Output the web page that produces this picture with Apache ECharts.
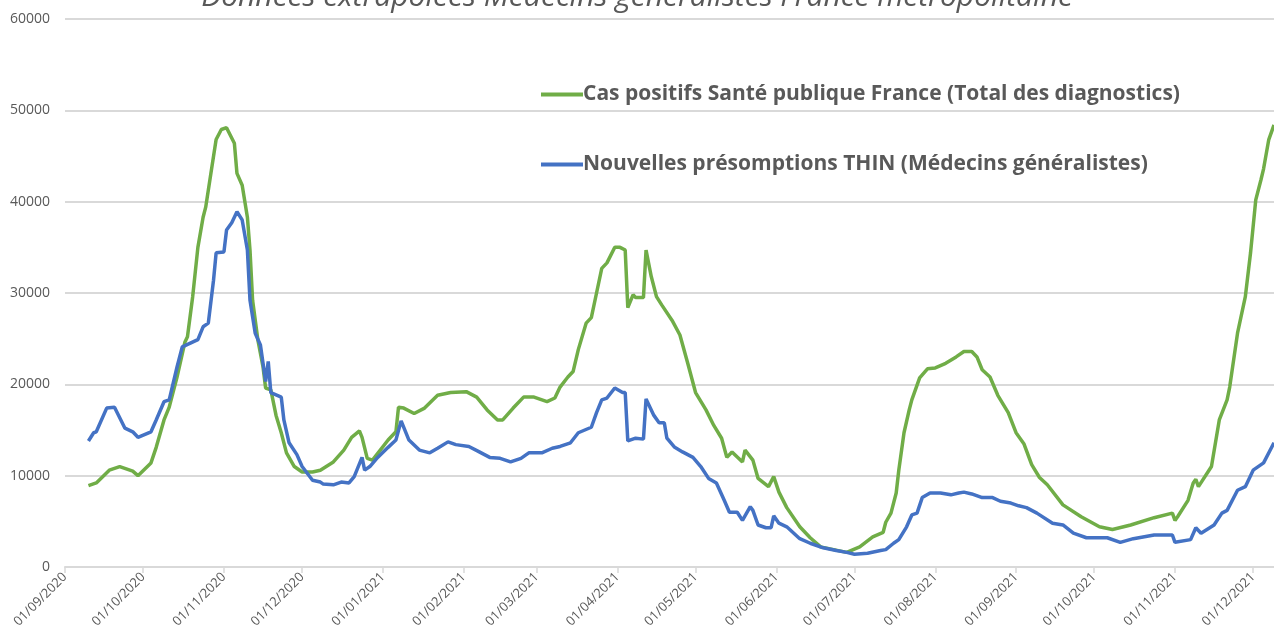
<!doctype html>
<html>
<head>
<meta charset="UTF-8">
<title>Données extrapolées Médecins généralistes</title>
<script src="https://cdn.jsdelivr.net/npm/echarts@6/dist/echarts.min.js"></script>
<style>
  html, body { margin: 0; padding: 0; background: #fff; }
  #main { width: 1274px; height: 644px; }
</style>
</head>
<body>
<div id="main"></div>
<script>
// séries
var greenDates = ['2020-09-10','2020-09-13','2020-09-18','2020-09-22','2020-09-27','2020-09-29','2020-10-04','2020-10-06','2020-10-09','2020-10-11',
  '2020-10-14','2020-10-17','2020-10-18','2020-10-20','2020-10-22','2020-10-24','2020-10-25','2020-10-27','2020-10-29','2020-10-31',
  '2020-11-02','2020-11-05','2020-11-06','2020-11-08','2020-11-10','2020-11-11','2020-11-12','2020-11-14','2020-11-16','2020-11-17',
  '2020-11-19','2020-11-21','2020-11-23','2020-11-25','2020-11-28','2020-12-01','2020-12-05','2020-12-08','2020-12-13','2020-12-17',
  '2020-12-20','2020-12-23','2020-12-24','2020-12-26','2020-12-28','2020-12-31','2021-01-03','2021-01-06','2021-01-07','2021-01-09',
  '2021-01-13','2021-01-17','2021-01-22','2021-01-27','2021-02-02','2021-02-06','2021-02-10','2021-02-14','2021-02-16','2021-02-20',
  '2021-02-24','2021-02-28','2021-03-05','2021-03-08','2021-03-10','2021-03-13','2021-03-15','2021-03-17','2021-03-20','2021-03-22',
  '2021-03-24','2021-03-26','2021-03-28','2021-03-31','2021-04-02','2021-04-04','2021-04-05','2021-04-07','2021-04-08','2021-04-11',
  '2021-04-12','2021-04-14','2021-04-16','2021-04-18','2021-04-22','2021-04-25','2021-04-28','2021-05-01','2021-05-05','2021-05-08',
  '2021-05-11','2021-05-13','2021-05-15','2021-05-19','2021-05-20','2021-05-23','2021-05-25','2021-05-29','2021-05-31','2021-06-02',
  '2021-06-05','2021-06-10','2021-06-14','2021-06-18','2021-06-23','2021-06-28','2021-07-03','2021-07-08','2021-07-12','2021-07-13',
  '2021-07-15','2021-07-17','2021-07-18','2021-07-20','2021-07-22','2021-07-23','2021-07-26','2021-07-29','2021-08-01','2021-08-05',
  '2021-08-09','2021-08-12','2021-08-15','2021-08-17','2021-08-19','2021-08-22','2021-08-25','2021-08-29','2021-09-01','2021-09-04',
  '2021-09-07','2021-09-10','2021-09-13','2021-09-19','2021-09-26','2021-10-03','2021-10-08','2021-10-15','2021-10-24','2021-10-31',
  '2021-11-01','2021-11-02','2021-11-06','2021-11-08','2021-11-09','2021-11-10','2021-11-15','2021-11-18','2021-11-21','2021-11-22',
  '2021-11-25','2021-11-28','2021-11-30','2021-12-02','2021-12-04','2021-12-05','2021-12-07','2021-12-09'];
var greenValues = [8900,9200,10600,11000,10500,10000,11400,13100,16100,17500,
  20800,24600,25200,29600,35000,38300,39400,43100,46800,47900,
  48100,46400,43100,41800,38300,34700,29200,24900,21900,19600,
  19400,16600,14700,12500,11000,10400,10400,10600,11500,12800,
  14200,14900,14200,11900,11700,12800,13900,14800,17500,17400,
  16800,17400,18800,19100,19200,18600,17200,16100,16100,17400,
  18600,18600,18100,18500,19700,20800,21400,23800,26700,27300,
  30000,32700,33300,35000,35000,34700,28400,29800,29500,29500,
  34700,31800,29600,28700,27000,25400,22300,19100,17200,15500,
  14100,12000,12600,11500,12800,11700,9700,8800,9900,8200,
  6500,4400,3200,2200,1900,1600,2200,3300,3800,4900,
  5900,8100,10600,14700,17200,18300,20700,21700,21800,22300,
  23000,23600,23600,23000,21600,20800,18800,16900,14700,13500,
  11200,9800,9000,6800,5500,4400,4100,4600,5400,5900,
  5100,5500,7300,9200,9600,8800,11000,16100,18300,19700,
  25600,29600,34400,40200,42400,43600,46800,48400];

var blueDates = ['2020-09-10','2020-09-12','2020-09-13','2020-09-17','2020-09-20','2020-09-24','2020-09-27','2020-09-29','2020-10-04','2020-10-06',
  '2020-10-09','2020-10-11','2020-10-14','2020-10-16','2020-10-22','2020-10-24','2020-10-26','2020-10-28','2020-10-29','2020-11-01',
  '2020-11-02','2020-11-04','2020-11-06','2020-11-08','2020-11-10','2020-11-11','2020-11-13','2020-11-15','2020-11-17','2020-11-18',
  '2020-11-19','2020-11-23','2020-11-24','2020-11-26','2020-11-29','2020-12-01','2020-12-05','2020-12-08','2020-12-09','2020-12-13',
  '2020-12-16','2020-12-19','2020-12-21','2020-12-24','2020-12-25','2020-12-27','2020-12-30','2021-01-03','2021-01-06','2021-01-08',
  '2021-01-11','2021-01-15','2021-01-19','2021-01-22','2021-01-26','2021-01-29','2021-02-03','2021-02-07','2021-02-11','2021-02-15',
  '2021-02-19','2021-02-23','2021-02-26','2021-03-03','2021-03-07','2021-03-10','2021-03-14','2021-03-17','2021-03-22','2021-03-24',
  '2021-03-26','2021-03-28','2021-03-31','2021-04-03','2021-04-04','2021-04-05','2021-04-08','2021-04-11','2021-04-12','2021-04-15',
  '2021-04-17','2021-04-19','2021-04-20','2021-04-23','2021-04-26','2021-04-30','2021-05-03','2021-05-06','2021-05-09','2021-05-12',
  '2021-05-14','2021-05-17','2021-05-19','2021-05-22','2021-05-23','2021-05-25','2021-05-28','2021-05-30','2021-05-31','2021-06-02',
  '2021-06-05','2021-06-10','2021-06-14','2021-06-19','2021-06-24','2021-06-28','2021-07-01','2021-07-06','2021-07-11','2021-07-13',
  '2021-07-16','2021-07-18','2021-07-21','2021-07-23','2021-07-25','2021-07-27','2021-07-30','2021-08-03','2021-08-07','2021-08-10',
  '2021-08-12','2021-08-15','2021-08-19','2021-08-23','2021-08-26','2021-08-30','2021-09-02','2021-09-05','2021-09-09','2021-09-15',
  '2021-09-19','2021-09-23','2021-09-28','2021-10-06','2021-10-11','2021-10-16','2021-10-24','2021-10-31','2021-11-01','2021-11-07',
  '2021-11-09','2021-11-11','2021-11-16','2021-11-19','2021-11-21','2021-11-25','2021-11-28','2021-12-01','2021-12-05','2021-12-09'];
var blueValues = [13800,14700,14800,17400,17500,15200,14800,14200,14800,16100,
  18100,18300,21900,24100,24900,26300,26700,31400,34400,34500,
  36900,37700,38900,38000,34700,29200,25600,24300,20300,22500,
  19100,18600,16100,13600,12300,11000,9500,9300,9100,9000,
  9300,9200,9900,12000,10600,11000,12000,13100,13900,16000,
  13900,12800,12500,13000,13700,13400,13200,12600,12000,11900,
  11500,11900,12500,12500,13000,13200,13600,14700,15300,16900,
  18300,18500,19600,19100,19100,13800,14100,14000,18400,16600,
  15800,15800,14100,13100,12600,12000,11000,9700,9200,7300,
  6000,6000,5100,6600,6200,4600,4300,4300,5600,4800,
  4400,3100,2600,2100,1800,1600,1400,1500,1800,1900,
  2600,3000,4400,5700,5900,7600,8100,8100,7900,8100,
  8200,8000,7600,7600,7200,7000,6700,6500,5900,4800,
  4600,3700,3200,3200,2700,3100,3500,3500,2700,3000,
  4300,3700,4600,5900,6200,8400,8800,10600,11400,13600];

var yTicks = [0, 10000, 20000, 30000, 40000, 50000, 60000];

function pad(n) { return n < 10 ? '0' + n : '' + n; }
function toPairs(dates, values) {
  return dates.map(function (d, i) { return [d, values[i]]; });
}

var myChart = echarts.init(document.getElementById('main'));
var option = {
  animation: false,
  backgroundColor: '#ffffff',
  title: {
    text: 'Données extrapolées Médecins généralistes France métropolitaine',
    left: 'center',
    top: -23,
    textStyle: { fontFamily: 'Open Sans', fontStyle: 'italic', fontWeight: 'normal', fontSize: 30, color: '#595959' }
  },
  legend: {
    orient: 'vertical',
    left: 536,
    top: 79,
    itemGap: 49,
    itemWidth: 42,
    itemHeight: 4,
    icon: 'rect',
    textStyle: { fontFamily: 'Open Sans', fontWeight: 'bold', fontSize: 21, color: '#595959', padding: [0, 0, 0, -5] },
    data: ['Cas positifs Santé publique France (Total des diagnostics)', 'Nouvelles présomptions THIN (Médecins généralistes)']
  },
  grid: { left: 65, right: 0, top: 19, bottom: 77 },
  xAxis: {
    type: 'time',
    min: '2020-09-01',
    max: '2021-12-09',
    minInterval: 28 * 86400000,
    maxInterval: 31 * 86400000,
    splitNumber: 16,
    axisLine: { lineStyle: { color: '#d9d9d9', width: 2 } },
    axisTick: { show: true, length: 6, lineStyle: { color: '#d9d9d9', width: 1.5 } },
    splitLine: { show: false },
    axisLabel: {
      rotate: 45,
      margin: 8,
      fontFamily: 'Open Sans',
      fontSize: 13,
      color: '#595959',
      hideOverlap: false,
      formatter: function (v) {
        var d = new Date(v);
        return pad(d.getDate()) + '/' + pad(d.getMonth() + 1) + '/' + d.getFullYear();
      }
    }
  },
  yAxis: {
    type: 'value',
    min: yTicks[0],
    max: yTicks[yTicks.length - 1],
    interval: yTicks[1] - yTicks[0],
    axisLine: { show: false },
    axisTick: { show: false },
    splitLine: { lineStyle: { color: '#d9d9d9', width: 2 } },
    axisLabel: {
      fontFamily: 'Open Sans', fontSize: 14, color: '#595959', margin: 15,
      formatter: function (v) { return String(v); }
    }
  },
  series: [
    {
      name: 'Cas positifs Santé publique France (Total des diagnostics)',
      type: 'line',
      showSymbol: false,
      symbol: 'none',
      color: '#70ad47',
      lineStyle: { width: 3.5, color: '#70ad47' },
      data: toPairs(greenDates, greenValues)
    },
    {
      name: 'Nouvelles présomptions THIN (Médecins généralistes)',
      type: 'line',
      showSymbol: false,
      symbol: 'none',
      color: '#4472c4',
      lineStyle: { width: 3.5, color: '#4472c4' },
      data: toPairs(blueDates, blueValues)
    }
  ]
};
myChart.setOption(option);
</script>
</body>
</html>
